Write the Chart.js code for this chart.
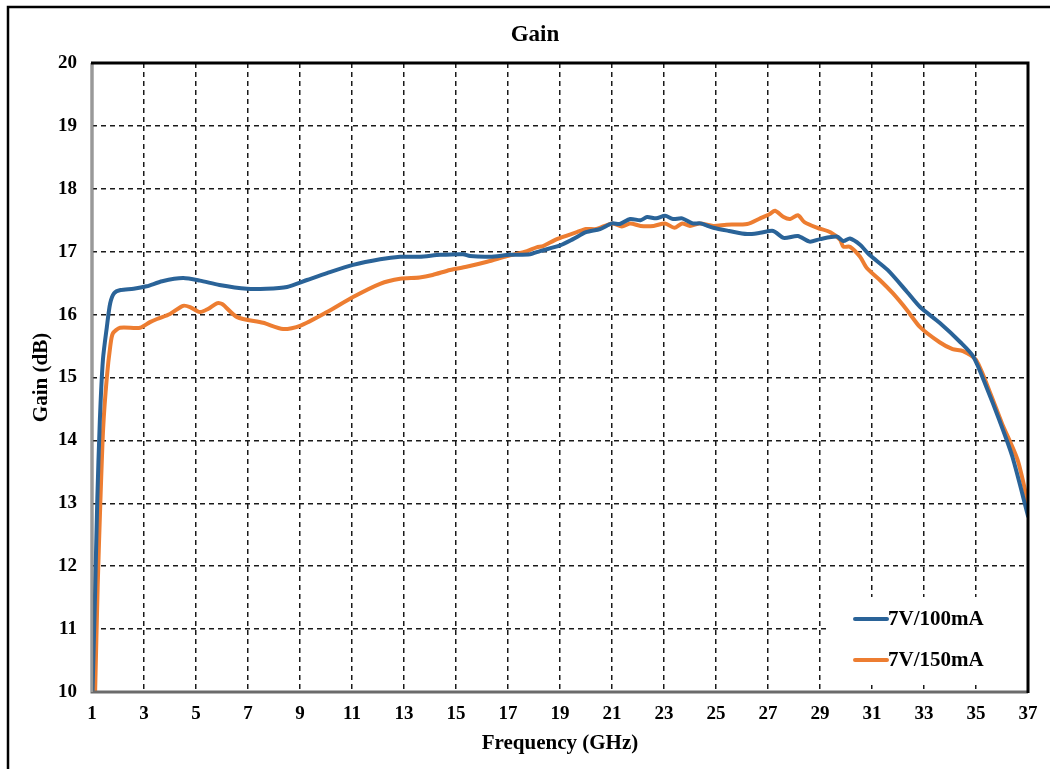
<!DOCTYPE html>
<html>
<head>
<meta charset="utf-8">
<script src="https://cdn.jsdelivr.net/npm/chart.js@4.4.1/dist/chart.umd.min.js"></script>
<style>
  html, body { margin: 0; padding: 0; background: #fff; }
  #wrap { width: 1050px; height: 769px; }
</style>
</head>
<body>
<div id="wrap"><canvas id="gainChart" width="1050" height="769"></canvas></div>
<script>
// ----- Data -----
const chartTitle = 'Gain';
const seriesNames = ['7V/100mA', '7V/150mA'];
const seriesColors = ['#2a6398', '#ed7d31'];

const freq100 = [1.02, 1.12, 1.2, 1.3, 1.42, 1.57, 1.7, 1.85, 2.1, 2.6, 3.1, 3.7, 4.5, 5.15, 5.9, 6.96, 7.7, 8.5, 9.27, 10.04,
  11.04, 12.08, 12.85, 13.6, 14.4, 15.27, 15.54, 16.3, 17.08, 17.85, 18.23, 19.0, 19.5, 20.0, 20.54, 21.0, 21.3, 21.7, 22.1, 22.35,
  22.7, 23.04, 23.35, 23.7, 24.1, 24.4, 24.9, 25.5, 26.2, 26.7, 27.2, 27.6, 28.15, 28.6, 29.0, 29.65, 29.9, 30.15, 30.54, 30.9,
  31.6, 32.35, 32.85, 33.6, 34.4, 34.9, 35.4, 35.9, 36.4, 37.0];
const gain100 = [10.0, 11.6, 13.0, 14.3, 15.28, 15.8, 16.18, 16.34, 16.39, 16.41, 16.45, 16.53, 16.58, 16.54, 16.47, 16.41, 16.41, 16.44, 16.55, 16.66,
  16.79, 16.88, 16.92, 16.92, 16.95, 16.96, 16.93, 16.92, 16.95, 16.96, 17.01, 17.1, 17.2, 17.31, 17.36, 17.45, 17.44, 17.52, 17.5, 17.55,
  17.53, 17.57, 17.52, 17.53, 17.45, 17.45, 17.38, 17.33, 17.28, 17.3, 17.33, 17.22, 17.25, 17.16, 17.2, 17.24, 17.17, 17.21, 17.11, 16.95,
  16.71, 16.36, 16.12, 15.87, 15.56, 15.33, 14.85, 14.32, 13.74, 12.8];

const freq150 = [1.12, 1.22, 1.32, 1.43, 1.57, 1.7, 1.8, 2.08, 2.85, 3.23, 3.5, 4.0, 4.5, 4.77, 5.15, 5.46, 5.8, 6.0, 6.58, 7.58,
  8.35, 9.0, 10.04, 11.04, 12.08, 12.85, 13.6, 14.1, 14.77, 15.4, 16.2, 16.96, 17.73, 18.1, 18.35, 18.88, 19.65, 20.0, 20.4, 21.0,
  21.38, 21.7, 22.1, 22.6, 23.04, 23.4, 23.7, 24.0, 24.38, 24.9, 25.4, 26.2, 26.7, 27.07, 27.27, 27.6, 27.85, 28.15, 28.4, 28.9,
  29.4, 29.77, 29.9, 30.15, 30.54, 30.8, 31.3, 31.8, 32.35, 32.85, 33.6, 34.1, 34.5, 35.0, 35.55, 36.0, 36.6, 37.0];
const gain150 = [10.0, 11.7, 13.0, 14.2, 15.0, 15.49, 15.7, 15.79, 15.79, 15.88, 15.93, 16.01, 16.14, 16.12, 16.04, 16.09, 16.18, 16.17, 15.96, 15.87,
  15.77, 15.82, 16.04, 16.28, 16.49, 16.57, 16.59, 16.63, 16.71, 16.76, 16.84, 16.93, 17.01, 17.07, 17.09, 17.2, 17.31, 17.36, 17.36, 17.45,
  17.4, 17.45, 17.41, 17.41, 17.45, 17.38, 17.45, 17.41, 17.45, 17.41, 17.43, 17.44, 17.53, 17.6, 17.65, 17.55, 17.52, 17.58, 17.47, 17.38,
  17.31, 17.19, 17.08, 17.08, 16.92, 16.74, 16.55, 16.34, 16.07, 15.8, 15.56, 15.45, 15.42, 15.28, 14.75, 14.27, 13.69, 13.0];

const xMin = 1, xMax = 37, xStep = 2;
const yMin = 10, yMax = 20, yStep = 1;

const serif = "'Liberation Serif', 'Times New Roman', serif";

const toPoints = (xs, ys) => xs.map((x, i) => ({ x, y: ys[i] }));

// ----- title, frame, outer border and legend box -----
const framePlugin = {
  id: 'frame',
  afterDraw(chart) {
    const { ctx, chartArea: a } = chart;
    ctx.save();
    // outer border (only top/left visible in the picture)
    ctx.strokeStyle = '#000';
    ctx.lineWidth = 2.5;
    ctx.strokeRect(8, 7, 1100, 900);

    // title, centred on the figure box (not the plot)
    ctx.fillStyle = '#000';
    ctx.font = 'bold 23px ' + serif;
    ctx.textAlign = 'center';
    ctx.textBaseline = 'middle';
    ctx.fillText(chartTitle, 535, 35);

    // plot frame
    ctx.strokeStyle = '#6b6b6b';
    ctx.lineWidth = 3;
    ctx.beginPath();
    ctx.moveTo(a.left, a.top); ctx.lineTo(a.left, a.bottom); ctx.lineTo(a.right, a.bottom);
    ctx.stroke();
    ctx.strokeStyle = '#c8c8c8';
    ctx.lineWidth = 1;
    ctx.beginPath();
    ctx.moveTo(a.left, a.top); ctx.lineTo(a.left, a.bottom);
    ctx.stroke();
    ctx.strokeStyle = '#000';
    ctx.lineWidth = 3;
    ctx.beginPath();
    ctx.moveTo(a.left - 1, a.top); ctx.lineTo(a.right, a.top); ctx.lineTo(a.right, a.bottom + 1);
    ctx.stroke();

    // legend, lower right inside the plot
    const bx = a.right - 198, by = a.bottom - 95;
    ctx.fillStyle = '#fff';
    ctx.fillRect(bx, by, 195, 88);
    ctx.font = 'bold 21px ' + serif;
    ctx.textAlign = 'left';
    ctx.textBaseline = 'middle';
    chart.data.datasets.forEach((ds, i) => {
      const ly = by + 22 + i * 41;
      ctx.strokeStyle = ds.borderColor;
      ctx.lineWidth = 4;
      ctx.lineCap = 'round';
      ctx.beginPath();
      ctx.moveTo(bx + 25, ly); ctx.lineTo(bx + 57, ly);
      ctx.stroke();
      ctx.fillStyle = '#000';
      ctx.fillText(ds.label, bx + 58, ly + 1);
    });
    ctx.restore();
  }
};

const ctx = document.getElementById('gainChart').getContext('2d');
new Chart(ctx, {
  type: 'line',
  data: {
    datasets: [
      { label: seriesNames[0], data: toPoints(freq100, gain100), borderColor: seriesColors[0] },
      { label: seriesNames[1], data: toPoints(freq150, gain150), borderColor: seriesColors[1] }
    ].map(ds => Object.assign(ds, {
      borderWidth: 4,
      pointRadius: 0,
      tension: 0.25,
      fill: false,
      borderCapStyle: 'round',
      borderJoinStyle: 'round'
    }))
  },
  options: {
    responsive: false,
    animation: false,
    layout: { padding: { left: 20, right: 22, top: 63, bottom: 10 } },
    plugins: {
      legend: { display: false },
      tooltip: { enabled: false },
      title: { display: false }
    },
    scales: {
      x: {
        type: 'linear',
        min: xMin, max: xMax,
        ticks: { stepSize: xStep, color: '#000', padding: 11, font: { family: serif, size: 19, weight: 'bold' } },
        grid: { color: '#1a1a1a', lineWidth: 1.5, drawTicks: false },
        border: { display: false, dash: [5, 4] },
        title: {
          display: true,
          text: 'Frequency (GHz)',
          color: '#000',
          font: { family: serif, size: 21, weight: 'bold' },
          padding: { top: 3, bottom: 3 }
        },
        afterFit: (scale) => { scale.height = 67; }
      },
      y: {
        min: yMin, max: yMax,
        ticks: { stepSize: yStep, color: '#000', padding: 15, font: { family: serif, size: 19, weight: 'bold' } },
        grid: { color: '#1a1a1a', lineWidth: 1.5, drawTicks: false },
        border: { display: false, dash: [5, 4] },
        title: {
          display: true,
          text: 'Gain (dB)',
          color: '#000',
          font: { family: serif, size: 21, weight: 'bold' },
          padding: { top: 9, bottom: 4 }
        },
        afterFit: (scale) => { scale.width = 72; }
      }
    }
  },
  plugins: [framePlugin]
});
</script>
</body>
</html>
